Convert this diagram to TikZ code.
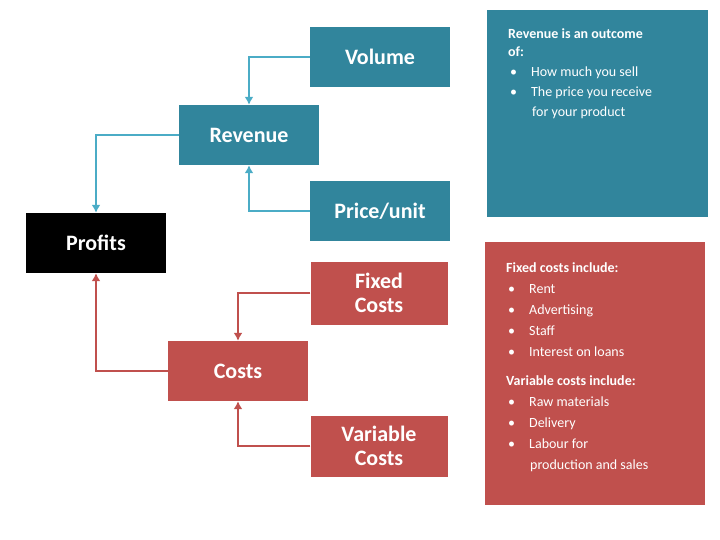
\documentclass[tikz,border=0pt]{standalone}
\usepackage{fontspec}
\setmainfont{Carlito}
\usetikzlibrary{positioning}
\definecolor{tealbox}{HTML}{31859C}
\definecolor{tealline}{HTML}{4BACC6}
\definecolor{redbox}{HTML}{C0504D}
\tikzset{
	boxed/.style={minimum width=140pt, minimum height=60pt, text=white, align=center,
		font=\fontsize{22}{24}\selectfont\bfseries, inner sep=0pt},
	infobox/.style={anchor=north west, text=white, align=left, inner sep=0pt,
		font=\fontsize{14}{21}\selectfont},
	link/.style={line width=2.2pt, -{Latex[length=8pt,width=9pt]}}
}
\usetikzlibrary{arrows.meta}
\begin{document}
\begin{tikzpicture}[x=1pt, y=-1pt]
	\useasboundingbox (0,0) rectangle (720,539);

	\node (vol) at (380, 57) [boxed, fill=tealbox] {Volume};
	\node (rev) at (249, 135) [boxed, fill=tealbox] {Revenue};
	\node (price) at (380, 211) [boxed, fill=tealbox] {Price/unit};
	\node (prof) at (96, 243) [boxed, fill=black] {Profits};
	\node (fix) at (379, 293) [boxed, minimum width=137pt, minimum height=63pt, fill=redbox] {Fixed\\Costs};
	\node (cost) at (238, 371) [boxed, fill=redbox] {Costs};
	\node (var) at (379, 446) [boxed, minimum width=137pt, minimum height=61pt, fill=redbox] {Variable\\Costs};

	\draw [link, tealline] (vol.west) -| (rev.north);
	\draw [link, tealline] (price.west) -| (rev.south);
	\draw [link, tealline] (rev.west) -| (prof.north);
	\draw [link, redbox] (fix.west) -| (cost.north);
	\draw [link, redbox] (var.west) -| (cost.south);
	\draw [link, redbox] (cost.west) -| (prof.south);

	\fill [tealbox] (487, 10) rectangle (708, 217);
	\node (revinfo) at (508, 28) [infobox] {%
		\textbf{Revenue is an outcome}\\[-3pt]
		\textbf{of:}\\[-1pt]
		\hspace*{2pt}\textbullet\hspace{14pt}How much you sell\\[-1pt]
		\hspace*{2pt}\textbullet\hspace{14pt}The price you receive\\[-1pt]
		\hspace*{24pt}for your product};

	\fill [redbox] (485, 242) rectangle (705, 505);
	\node (costinfo) at (506, 262) [infobox] {%
		\textbf{Fixed costs include:}\\
		\hspace*{2pt}\textbullet\hspace{14pt}Rent\\
		\hspace*{2pt}\textbullet\hspace{14pt}Advertising\\
		\hspace*{2pt}\textbullet\hspace{14pt}Staff\\
		\hspace*{2pt}\textbullet\hspace{14pt}Interest on loans\\[8pt]
		\textbf{Variable costs include:}\\
		\hspace*{2pt}\textbullet\hspace{14pt}Raw materials\\
		\hspace*{2pt}\textbullet\hspace{14pt}Delivery\\
		\hspace*{2pt}\textbullet\hspace{14pt}Labour for\\
		\hspace*{24pt}production and sales};
\end{tikzpicture}
\end{document}
